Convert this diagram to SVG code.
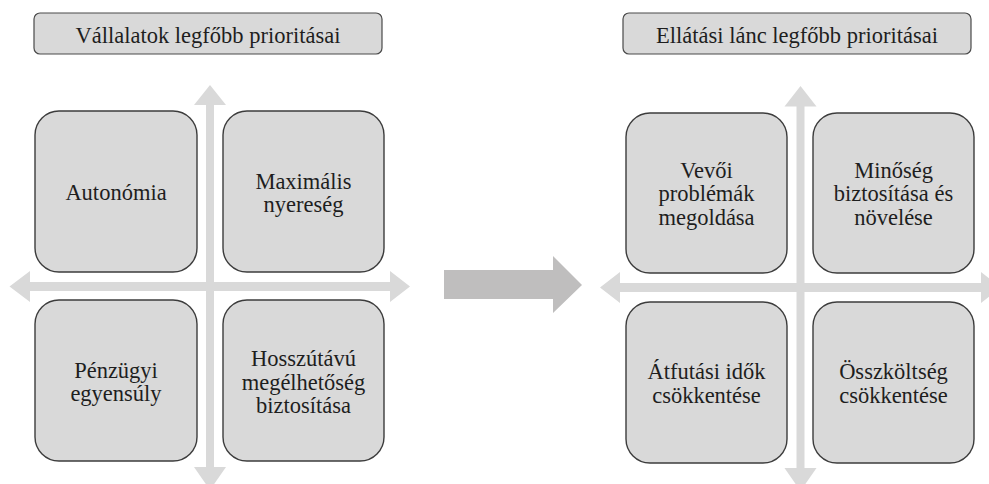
<svg xmlns="http://www.w3.org/2000/svg" width="989" height="484" viewBox="0 0 989 484">
  <style>
    .title { fill: #d9d9d9; stroke: #4a4a4a; stroke-width: 1.2; }
    .box { fill: #d9d9d9; stroke: #3c3c3c; stroke-width: 1.4; }
    .axis { fill: #d9d9d9; stroke: none; }
    .big { fill: #bfbebe; stroke: none; }
    text { font-family: "Liberation Serif", "Times New Roman", serif; font-size: 22.5px; fill: #1e1e1e; text-anchor: middle; }
  </style>
  <rect width="989" height="484" fill="#ffffff"/>

  <g id="axes">
    <path class="axis" d="M9.5,286.5 L30,271 L30,282 L390,282 L390,271 L410,286.5 L390,302 L390,291 L30,291 L30,302 Z"/>
    <path class="axis" d="M210,85 L226,105 L214,105 L214,467 L226,467 L210,490 L194,467 L206,467 L206,105 L194,105 Z"/>
    <path class="axis" d="M600,287.5 L620,272 L620,283 L981,283 L981,272 L1001,287.5 L981,303 L981,292 L620,292 L620,303 Z"/>
    <path class="axis" d="M800.5,86 L816.5,106.5 L804.5,106.5 L804.5,468 L816.5,468 L800.5,491 L784.5,468 L796.5,468 L796.5,106.5 L784.5,106.5 Z"/>
  </g>

  <g id="connectors">
    <path class="big" d="M444,270 L553,270 L553,256 L582,285 L553,313 L553,299 L444,299 Z"/>
  </g>

  <g id="title-left">
    <rect class="title" x="34" y="13" width="348" height="41" rx="6"/>
    <text x="208" y="43">Vállalatok legfőbb prioritásai</text>
  </g>
  <g id="title-right">
    <rect class="title" x="623" y="13" width="348" height="41" rx="6"/>
    <text x="797" y="43">Ellátási lánc legfőbb prioritásai</text>
  </g>

  <g id="autonomia">
    <rect class="box" x="35" y="111" width="162" height="161" rx="24"/>
    <text x="116" y="200">Autonómia</text>
  </g>
  <g id="maximalis-nyereseg">
    <rect class="box" x="223" y="111" width="161" height="161" rx="24"/>
    <text x="303.5" y="188.5">Maximális</text>
    <text x="303.5" y="211.5">nyereség</text>
  </g>
  <g id="penzugyi-egyensuly">
    <rect class="box" x="35" y="300" width="162" height="161" rx="24"/>
    <text x="116" y="377.5">Pénzügyi</text>
    <text x="116" y="401">egyensúly</text>
  </g>
  <g id="hosszutavu">
    <rect class="box" x="223" y="300" width="161" height="161" rx="24"/>
    <text x="303.5" y="366">Hosszútávú</text>
    <text x="303.5" y="389.5">megélhetőség</text>
    <text x="303.5" y="413">biztosítása</text>
  </g>

  <g id="vevoi-problemak">
    <rect class="box" x="626" y="113" width="161" height="160" rx="24"/>
    <text x="706.5" y="177.5">Vevői</text>
    <text x="706.5" y="201">problémák</text>
    <text x="706.5" y="224.5">megoldása</text>
  </g>
  <g id="minoseg">
    <rect class="box" x="813" y="113" width="161" height="160" rx="24"/>
    <text x="893.5" y="177.5">Minőség</text>
    <text x="893.5" y="201">biztosítása és</text>
    <text x="893.5" y="224.5">növelése</text>
  </g>
  <g id="atfutasi-idok">
    <rect class="box" x="626" y="302" width="161" height="161" rx="24"/>
    <text x="706.5" y="379">Átfutási idők</text>
    <text x="706.5" y="402.5">csökkentése</text>
  </g>
  <g id="osszkoltseg">
    <rect class="box" x="813" y="302" width="161" height="161" rx="24"/>
    <text x="893.5" y="379">Összköltség</text>
    <text x="893.5" y="402.5">csökkentése</text>
  </g>
</svg>
